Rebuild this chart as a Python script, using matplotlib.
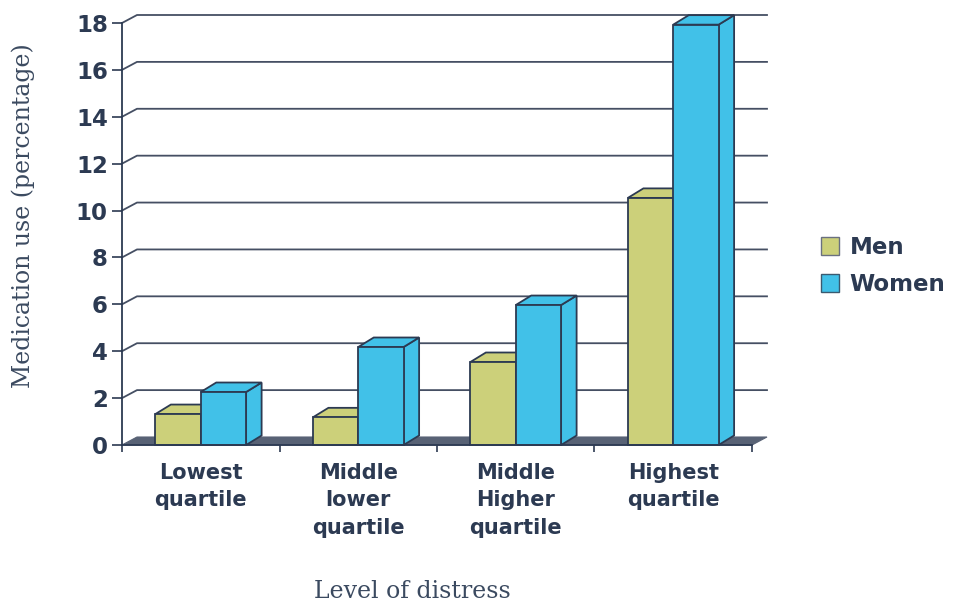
import matplotlib
matplotlib.use("Agg")
import matplotlib.pyplot as plt
from matplotlib.patches import Polygon, Patch

# data
categories = ["Lowest\nquartile", "Middle\nlower\nquartile", "Middle\nHigher\nquartile", "Highest\nquartile"]
men = [1.32, 1.18, 3.54, 10.54]
women = [2.26, 4.18, 5.97, 17.93]
series_names = ["Men", "Women"]
yticks = list(range(0, 19, 2))

MEN_COL = "#ccd07a"
WOMEN_COL = "#41c1e8"
EDGE = "#2c3a52"
FLOOR = "#586275"
GRID = "#454f63"
TEXT = "#2c3a52"

fig = plt.figure(figsize=(9.67, 6.04), dpi=100)
ax = fig.add_axes([122 / 967, 1 - 445 / 604, 630 / 967, 422 / 604])
ax.set_xlim(0, 4)
ax.set_ylim(0, 18)

# pixel -> data depth offsets
px_x = 4 / 630.0
px_y = 18 / 422.0
wall_dx, wall_dy = 15 * px_x, 8 * px_y
bar_dx, bar_dy = 15.5 * px_x, 9.5 * px_y

# back wall grid lines
for v in yticks[1:]:
    ax.plot([0, wall_dx, 4 + wall_dx], [v, v + wall_dy, v + wall_dy],
            color=GRID, lw=1.3, clip_on=False, zorder=1)

# floor
ax.add_patch(Polygon([(0, 0), (4, 0), (4 + wall_dx, wall_dy), (wall_dx, wall_dy)],
                     closed=True, facecolor=FLOOR, edgecolor=FLOOR, lw=0.8,
                     clip_on=False, zorder=2))

xs = range(len(categories))
width = 0.288
offsets = [0.212, 0.5]
z = 3
for vals, col, off, name in zip([men, women], [MEN_COL, WOMEN_COL], offsets, series_names):
    bars = ax.bar([i + off for i in xs], vals, width=width, align="edge", color=col,
                  edgecolor=EDGE, lw=1.3, label=name, zorder=z + 2, clip_on=False)
    for b in bars:
        x0, w, h = b.get_x(), b.get_width(), b.get_height()
        side = Polygon([(x0 + w, 0), (x0 + w + bar_dx, bar_dy), (x0 + w + bar_dx, h + bar_dy), (x0 + w, h)],
                       closed=True, facecolor=col, edgecolor=EDGE, lw=1.3, clip_on=False, zorder=z)
        top = Polygon([(x0, h), (x0 + bar_dx, h + bar_dy), (x0 + w + bar_dx, h + bar_dy), (x0 + w, h)],
                      closed=True, facecolor=col, edgecolor=EDGE, lw=1.3, clip_on=False, zorder=z + 1)
        ax.add_patch(side)
        ax.add_patch(top)
    z += 3

# axes styling
for s in ["top", "right"]:
    ax.spines[s].set_visible(False)
for s in ["left", "bottom"]:
    ax.spines[s].set_color(EDGE)
    ax.spines[s].set_linewidth(1.3)
    ax.spines[s].set_zorder(20)

ax.set_yticks(yticks)
ax.set_yticklabels([str(v) for v in yticks], fontsize=16.5, fontweight="bold",
                   color=TEXT, family="DejaVu Sans")
ax.tick_params(axis="y", length=7.2, width=1.2, color=EDGE, pad=3)

ax.set_xticks([0, 1, 2, 3, 4])
ax.set_xticklabels([])
ax.tick_params(axis="x", which="major", length=5, width=1.2, color=EDGE)
ax.set_xticks([i + 0.5 for i in xs], categories, minor=True)
ax.tick_params(axis="x", which="minor", length=0, pad=13)
for t in ax.get_xticklabels(minor=True):
    t.set_fontsize(15)
    t.set_fontweight("bold")
    t.set_color(TEXT)
    t.set_family("DejaVu Sans")
    t.set_linespacing(1.46)
    t.set_verticalalignment("top")

fig.text(23 / 967, 1 - 215.5 / 604, "Medication use (percentage)", rotation=90,
         ha="center", va="center", fontsize=17, family="DejaVu Serif", color="#3b4a60")
fig.text(412 / 967, 1 - 592 / 604, "Level of distress",
         ha="center", va="center", fontsize=17, family="DejaVu Serif", color="#3b4a60")

handles = [Patch(facecolor=MEN_COL, edgecolor="#6a7080", lw=1.0),
           Patch(facecolor=WOMEN_COL, edgecolor="#3a5a70", lw=1.0)]
leg = fig.legend(handles, series_names, loc="center left",
                 bbox_to_anchor=(821 / 967, 1 - 266 / 604), frameon=False,
                 prop={"family": "DejaVu Sans", "weight": "bold", "size": 16.5},
                 handlelength=0.8, handleheight=0.8, handletextpad=0.45,
                 labelspacing=0.6, borderpad=0, borderaxespad=0)
for t in leg.get_texts():
    t.set_color(TEXT)

fig.savefig("out.png", dpi=100, facecolor="white")
